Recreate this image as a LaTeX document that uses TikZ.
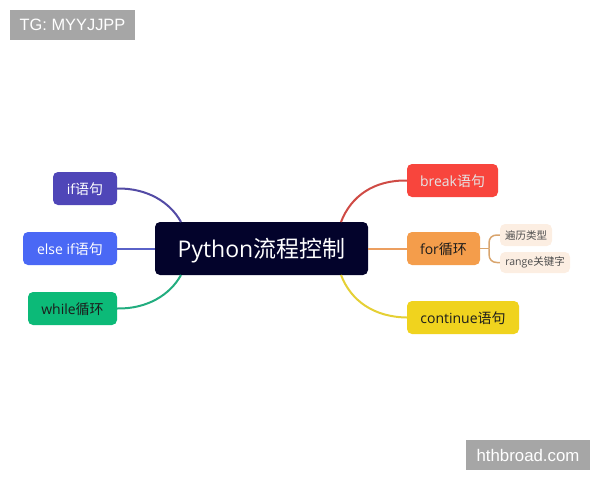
\documentclass[tikz,border=0pt]{standalone}
\usepackage{fontspec}
\setmainfont{Open Sans}
\newfontfamily\cjk{Noto Sans CJK SC}
\newfontfamily\wm{Liberation Sans}
\definecolor{cif}{HTML}{4F46B8}
\definecolor{celse}{HTML}{4A68F5}
\definecolor{cwhile}{HTML}{0CBA78}
\definecolor{croot}{HTML}{03032B}
\definecolor{cbreak}{HTML}{F8453D}
\definecolor{cfor}{HTML}{F49D4B}
\definecolor{ccont}{HTML}{F0D31E}
\definecolor{csub}{HTML}{FCEEE2}
\definecolor{lif}{HTML}{534BA5}
\definecolor{lelse}{HTML}{5A62C8}
\definecolor{lwhile}{HTML}{22AD7F}
\definecolor{lbreak}{HTML}{CF4B45}
\definecolor{lfor}{HTML}{EC9F60}
\definecolor{lcont}{HTML}{E5D035}
\definecolor{lsub}{HTML}{D9A56E}
\definecolor{wmgray}{HTML}{A6A6A6}
\definecolor{darktxt}{HTML}{1C1C1C}
\tikzset{
  x=1pt,y=-1pt,
  topic/.style={rounded corners=5pt,inner sep=0pt,minimum height=33pt,text height=11pt,text depth=0pt,font=\fontsize{14}{16}\selectfont},
  subtopic/.style={rounded corners=5pt,inner sep=0pt,minimum height=22pt,fill=csub,text=black!70,font=\fontsize{10.5}{12}\selectfont},
  wmark/.style={fill=wmgray,text=white,inner sep=0pt,font=\wm\fontsize{16.4}{18}\selectfont},
  link/.style={line width=2pt},
  sublink/.style={line width=1.5pt,lsub}
}
\begin{document}
\begin{tikzpicture}
\useasboundingbox (0,0) rectangle (600,480);
\node[wmark,minimum width=125pt,minimum height=30pt] (wa) at (72.5,25) {TG: MYYJJPP};
\node[wmark,minimum width=124pt,minimum height=30pt,font=\wm\fontsize{16.8}{18}\selectfont] (wb) at (528,455) {hthbroad.com};
\node[fill=croot,text=white,rounded corners=5pt,inner sep=0pt,minimum width=213pt,minimum height=53pt,text height=18.4pt,text depth=0pt,font=\fontsize{23}{26}\selectfont] (root) at (261.5,248.5) {Python{\cjk 流程控制}};
\node[topic,fill=cif,text=white,minimum width=64pt] (nif) at (85,188.5) {if{\cjk 语句}};
\node[topic,fill=celse,text=white,minimum width=94pt] (nelse) at (70,248.5) {else if{\cjk 语句}};
\node[topic,fill=cwhile,text=darktxt,minimum width=89pt] (nwhile) at (72.5,308.5) {while{\cjk 循环}};
\node[topic,fill=cbreak,text=white!90!black,minimum width=91pt] (nbreak) at (452.5,180.5) {break{\cjk 语句}};
\node[topic,fill=cfor,text=darktxt,minimum width=73pt] (nfor) at (443.5,248.5) {for{\cjk 循环}};
\node[topic,fill=ccont,text=darktxt,minimum width=112pt] (ncont) at (463,317.5) {continue{\cjk 语句}};
\node[subtopic,minimum width=52pt] (sa) at (526,235) {\cjk 遍历类型};
\node[subtopic,minimum width=70pt,minimum height=21pt] (sb) at (535,262.5) {range{\cjk 关键字}};
\coordinate (rif) at (181,222);
\coordinate (rwhile) at (181,275);
\coordinate (rbreak) at (341,222);
\coordinate (rcont) at (341,275);
\coordinate (fork) at (489,248.5);
\draw[link,lif] (nif.east) .. controls (147,188) and (170,202) .. (rif);
\draw[link,lelse] (nelse.east) -- (root.west |- nelse.east);
\draw[link,lwhile] (nwhile.east) .. controls (147,309) and (170,295) .. (rwhile);
\draw[link,lbreak] (nbreak.west) .. controls (374,180) and (351,196) .. (rbreak);
\draw[link,lfor] (root.east) -- (nfor.west);
\draw[link,lcont] (ncont.west) .. controls (374,317) and (351,301) .. (rcont);
\draw[sublink] (nfor.east) -- (fork);
\draw[sublink] (sa.west) -- (497,235) .. controls (492,235) and (489,238) .. (489,243) -- (fork);
\draw[sublink] (sb.west) -- (497,262.5) .. controls (492,262.5) and (489,259.5) .. (489,254) -- (fork);
\end{tikzpicture}
\end{document}
